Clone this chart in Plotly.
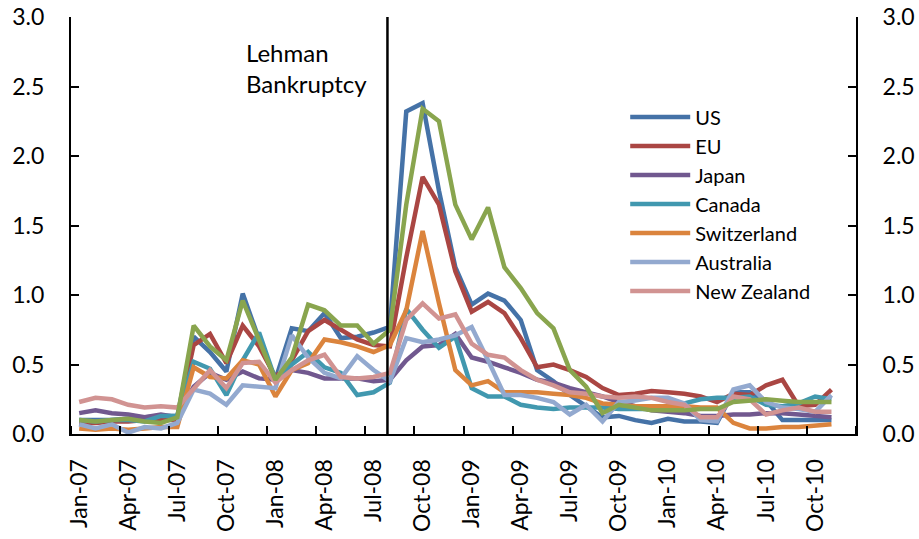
import plotly.graph_objects as go

MONTHS = ["Jan-07", "Feb-07", "Mar-07", "Apr-07", "May-07", "Jun-07", "Jul-07", "Aug-07", "Sep-07", "Oct-07", "Nov-07", "Dec-07",
          "Jan-08", "Feb-08", "Mar-08", "Apr-08", "May-08", "Jun-08", "Jul-08", "Aug-08", "Sep-08", "Oct-08", "Nov-08", "Dec-08",
          "Jan-09", "Feb-09", "Mar-09", "Apr-09", "May-09", "Jun-09", "Jul-09", "Aug-09", "Sep-09", "Oct-09", "Nov-09", "Dec-09",
          "Jan-10", "Feb-10", "Mar-10", "Apr-10", "May-10", "Jun-10", "Jul-10", "Aug-10", "Sep-10", "Oct-10", "Nov-10", "Dec-10"]
TICK_LABELS = ["Jan-07", "Apr-07", "Jul-07", "Oct-07", "Jan-08", "Apr-08", "Jul-08", "Oct-08",
               "Jan-09", "Apr-09", "Jul-09", "Oct-09", "Jan-10", "Apr-10", "Jul-10", "Oct-10"]
Y_TICKS = [0.0, 0.5, 1.0, 1.5, 2.0, 2.5, 3.0]

US = [0.10, 0.10, 0.10, 0.11, 0.12, 0.13, 0.13, 0.70, 0.59, 0.45, 1.01, 0.68, 0.39, 0.76, 0.74, 0.87, 0.69, 0.70, 0.73, 0.77,
      2.32, 2.38, 1.75, 1.20, 0.93, 1.01, 0.96, 0.82, 0.46, 0.38, 0.28, 0.20, 0.12, 0.13, 0.10, 0.08, 0.11, 0.09, 0.09, 0.08,
      0.30, 0.30, 0.24, 0.10, 0.10, 0.10, 0.10]
EU = [0.08, 0.08, 0.09, 0.09, 0.10, 0.10, 0.10, 0.64, 0.72, 0.51, 0.78, 0.63, 0.41, 0.53, 0.74, 0.82, 0.75, 0.68, 0.64, 0.63,
      1.27, 1.85, 1.65, 1.17, 0.88, 0.95, 0.87, 0.69, 0.48, 0.50, 0.46, 0.41, 0.33, 0.28, 0.29, 0.31, 0.30, 0.29, 0.27, 0.23,
      0.29, 0.28, 0.35, 0.39, 0.20, 0.21, 0.32]
JAPAN = [0.15, 0.17, 0.15, 0.14, 0.12, 0.14, 0.12, 0.34, 0.44, 0.39, 0.45, 0.40, 0.39, 0.46, 0.44, 0.40, 0.40, 0.40, 0.38, 0.39,
         0.53, 0.63, 0.64, 0.72, 0.55, 0.52, 0.48, 0.44, 0.39, 0.37, 0.33, 0.30, 0.27, 0.23, 0.20, 0.17, 0.16, 0.15, 0.13, 0.13,
         0.14, 0.14, 0.15, 0.15, 0.14, 0.13, 0.12]
CANADA = [0.10, 0.09, 0.10, 0.10, 0.09, 0.13, 0.13, 0.52, 0.47, 0.28, 0.53, 0.73, 0.39, 0.50, 0.59, 0.48, 0.44, 0.28, 0.30, 0.37,
          0.90, 0.75, 0.62, 0.70, 0.33, 0.27, 0.27, 0.21, 0.19, 0.18, 0.19, 0.19, 0.19, 0.18, 0.18, 0.18, 0.19, 0.22, 0.25, 0.26,
          0.26, 0.27, 0.21, 0.20, 0.22, 0.27, 0.25]
SWITZERLAND = [0.04, 0.03, 0.04, 0.03, 0.04, 0.05, 0.05, 0.48, 0.41, 0.40, 0.53, 0.50, 0.27, 0.46, 0.51, 0.68, 0.66, 0.63, 0.59, 0.64,
               0.89, 1.46, 0.94, 0.46, 0.35, 0.38, 0.30, 0.30, 0.30, 0.29, 0.28, 0.26, 0.22, 0.21, 0.20, 0.20, 0.20, 0.20, 0.19, 0.19,
               0.08, 0.04, 0.04, 0.05, 0.05, 0.06, 0.07]
AUSTRALIA = [0.07, 0.04, 0.07, 0.01, 0.05, 0.04, 0.08, 0.32, 0.29, 0.21, 0.35, 0.34, 0.33, 0.71, 0.55, 0.44, 0.40, 0.56, 0.46, 0.38,
             0.69, 0.66, 0.68, 0.71, 0.77, 0.53, 0.28, 0.28, 0.26, 0.23, 0.14, 0.21, 0.09, 0.23, 0.24, 0.26, 0.26, 0.22, 0.10, 0.09,
             0.32, 0.35, 0.23, 0.19, 0.18, 0.16, 0.28]
NEW_ZEALAND = [0.23, 0.26, 0.25, 0.21, 0.19, 0.20, 0.19, 0.32, 0.46, 0.33, 0.51, 0.52, 0.37, 0.46, 0.53, 0.57, 0.41, 0.40, 0.41, 0.44,
               0.82, 0.94, 0.83, 0.86, 0.65, 0.57, 0.55, 0.46, 0.39, 0.35, 0.30, 0.29, 0.27, 0.26, 0.27, 0.26, 0.23, 0.21, 0.12, 0.12,
               0.27, 0.25, 0.14, 0.17, 0.19, 0.16, 0.16]
UNLABELED_GREEN = [0.10, 0.09, 0.10, 0.11, 0.09, 0.08, 0.12, 0.78, 0.63, 0.53, 0.96, 0.67, 0.39, 0.55, 0.93, 0.89, 0.78, 0.78, 0.65, 0.75,
                   1.65, 2.34, 2.25, 1.65, 1.40, 1.63, 1.20, 1.05, 0.87, 0.76, 0.46, 0.34, 0.15, 0.21, 0.19, 0.17, 0.17, 0.17, 0.18, 0.18,
                   0.23, 0.24, 0.25, 0.24, 0.23, 0.23, 0.23]

LEHMAN_X = 18.85  # position of event marker on the month index scale

SERIES = [
    ("US", US, "#4572A7", True, "y"),
    ("EU", EU, "#AA4643", True, "y"),
    ("Japan", JAPAN, "#71588F", True, "y"),
    ("Canada", CANADA, "#4198AF", True, "y"),
    ("Switzerland", SWITZERLAND, "#DB843D", True, "y"),
    ("Australia", AUSTRALIA, "#93A9CF", True, "y"),
    ("New Zealand", NEW_ZEALAND, "#D19392", True, "y"),
    ("", UNLABELED_GREEN, "#89A54E", False, "y2"),
]

FONT = "Lato, 'Open Sans', sans-serif"
TICK_SIZE = 23

fig = go.Figure()
for name, vals, color, show, yax in SERIES:
    fig.add_trace(go.Scatter(
        x=list(range(len(vals))), y=vals, mode="lines", name=name, yaxis=yax,
        line=dict(color=color, width=4.5), showlegend=show,
    ))

tickvals = [MONTHS.index(t) for t in TICK_LABELS]
boundaries = [v - 0.5 for v in tickvals] + [len(MONTHS) - 0.5]

fig.add_shape(type="line", xref="x", yref="y", x0=LEHMAN_X, x1=LEHMAN_X, y0=0, y1=3,
              line=dict(color="black", width=2.5))
fig.add_annotation(text="Lehman<br>Bankruptcy", xref="paper", yref="paper",
                   x=0.2202, y=0.955, xanchor="left", yanchor="top", align="left",
                   showarrow=False, font=dict(size=24, color="black", family=FONT))

axis_common = dict(showgrid=False, zeroline=False, showline=True, linecolor="black", linewidth=2,
                   automargin=False, tickfont=dict(size=TICK_SIZE, color="black", family=FONT))
y_common = dict(range=[0, 3], tickmode="array", tickvals=Y_TICKS, tickformat=".1f", ticks="inside", ticklen=8,
                tickwidth=2, tickcolor="black", ticklabelstandoff=20, **axis_common)

fig.update_layout(
    width=919, height=539,
    margin=dict(l=71, r=63, t=17, b=105),
    plot_bgcolor="white", paper_bgcolor="white",
    font=dict(family=FONT, color="black"),
    xaxis=dict(range=[-0.5, len(MONTHS) - 0.5], tickmode="array", tickvals=tickvals, ticktext=TICK_LABELS,
               tickangle=-90, ticks="", ticklabelstandoff=14,
               minor=dict(tickmode="array", tickvals=boundaries, ticks="inside", ticklen=8, tickwidth=2, tickcolor="black"),
               **axis_common),
    yaxis=y_common,
    yaxis2=dict(overlaying="y", side="right", **y_common),
    legend=dict(x=0.706, y=0.807, xanchor="left", yanchor="top", bgcolor="rgba(0,0,0,0)",
                font=dict(size=20, color="black", family=FONT), itemwidth=60, tracegroupgap=0),
)

fig.write_html("out.html", config={"displayModeBar": False},
               post_script="document.body.style.margin='0';document.body.style.overflow='hidden';")
